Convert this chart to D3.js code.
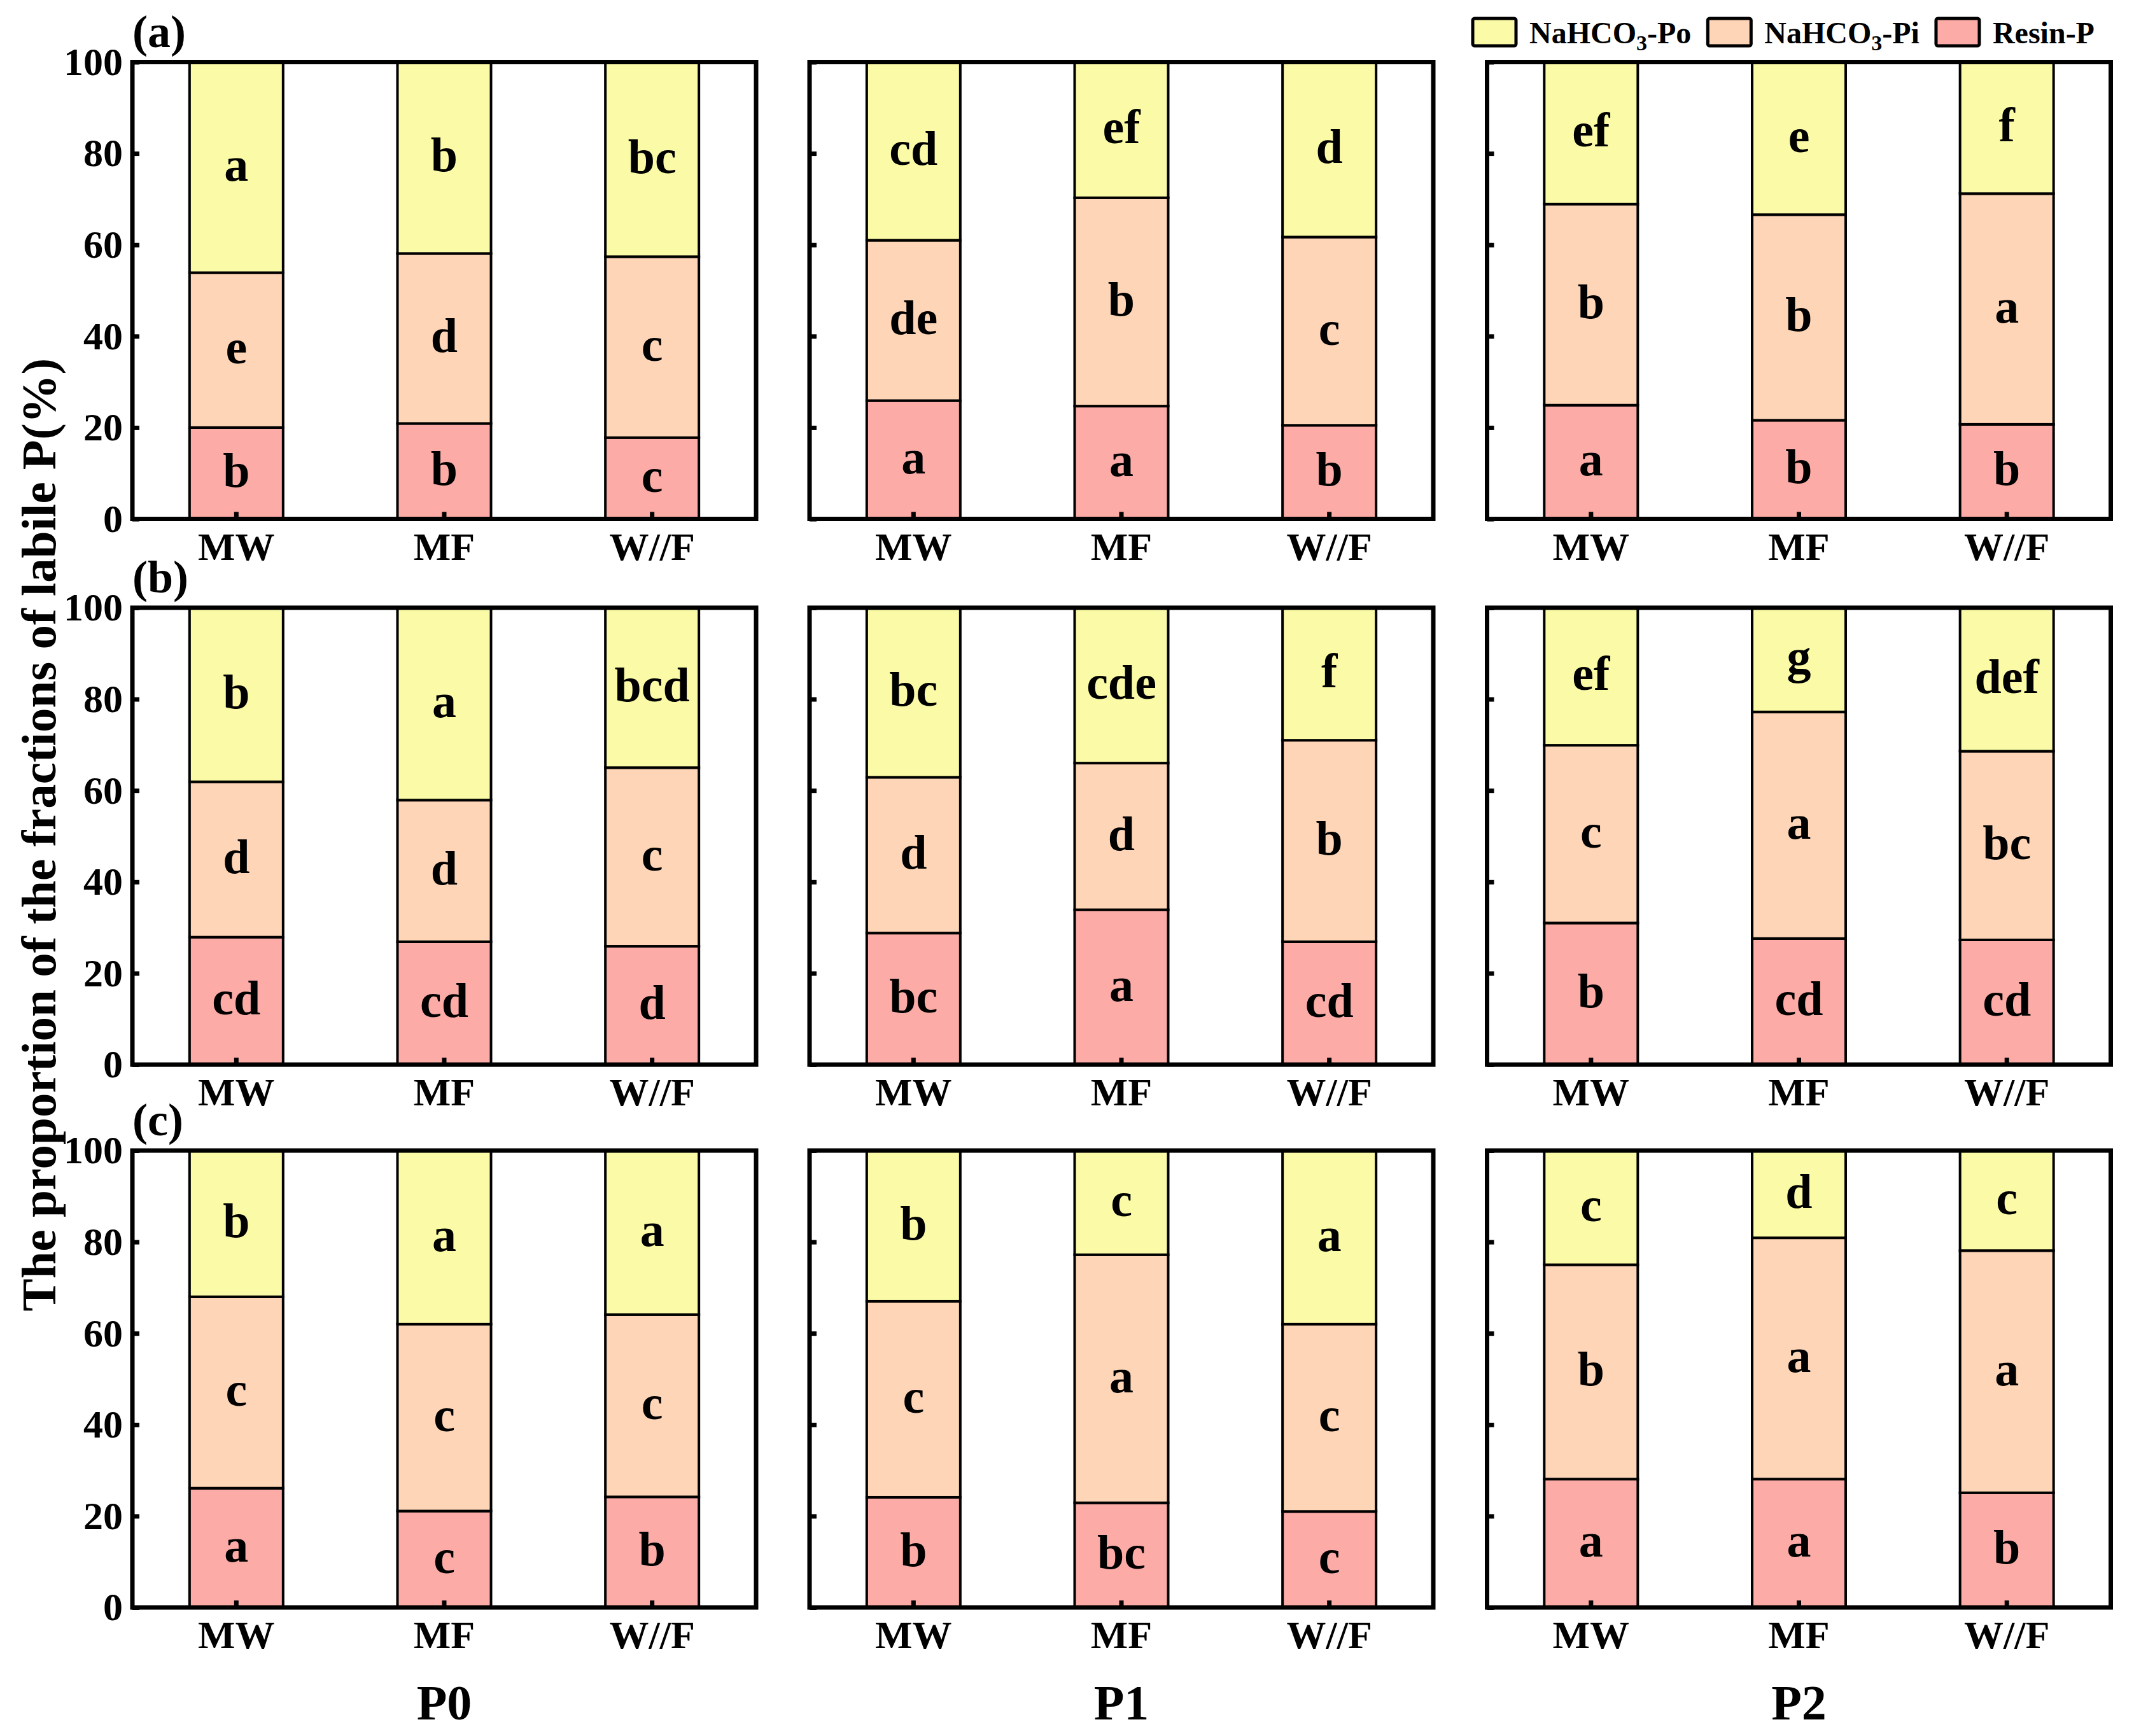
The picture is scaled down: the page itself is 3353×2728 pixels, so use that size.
<!DOCTYPE html>
<html>
<head>
	<meta charset="utf-8">
	<style>
		body { margin: 0; background: #fff; }
		text { font-family: "Liberation Serif", "Times New Roman", serif; font-weight: bold; }
	</style>
</head>
<body>

	<div id="chart"></div>

	<script src="https://cdnjs.cloudflare.com/ajax/libs/d3/7.8.5/d3.min.js"></script>

	<script>
		// categories
		const groups = ['MW', 'MF', 'W//F'];
		const pLevels = ['P0', 'P1', 'P2'];
		const rowTags = ['(a)', '(b)', '(c)'];
		const yTicks = [0, 20, 40, 60, 80, 100];

		// values (%), rows (a),(b),(c) -> P0,P1,P2 -> MW,MF,W//F
		const resinP = [
			[[20.0, 20.9, 17.8], [25.9, 24.7, 20.5], [24.9, 21.6, 20.7]],
			[[27.9, 26.9, 25.9], [28.8, 33.9, 26.9], [31.0, 27.6, 27.3]],
			[[26.1, 21.1, 24.2], [24.1, 22.9, 21.0], [28.1, 28.1, 25.1]]
		];
		const nahco3Pi = [
			[[33.9, 37.2, 39.6], [35.1, 45.6, 41.2], [44.0, 45.0, 50.5]],
			[[34.0, 31.0, 39.1], [34.1, 32.1, 44.1], [38.9, 49.6, 41.3]],
			[[41.9, 40.9, 39.9], [42.9, 54.3, 41.0], [46.9, 52.8, 53.0]]
		];
		const nahco3Po = [
			[[46.1, 41.9, 42.6], [39.0, 29.7, 38.3], [31.1, 33.4, 28.8]],
			[[38.1, 42.1, 35.0], [37.1, 34.0, 29.0], [30.1, 22.8, 31.4]],
			[[32.0, 38.0, 35.9], [33.0, 22.8, 38.0], [25.0, 19.1, 21.9]]
		];

		// significance letters
		const resinLetters = [
			[['b', 'b', 'c'], ['a', 'a', 'b'], ['a', 'b', 'b']],
			[['cd', 'cd', 'd'], ['bc', 'a', 'cd'], ['b', 'cd', 'cd']],
			[['a', 'c', 'b'], ['b', 'bc', 'c'], ['a', 'a', 'b']]
		];
		const piLetters = [
			[['e', 'd', 'c'], ['de', 'b', 'c'], ['b', 'b', 'a']],
			[['d', 'd', 'c'], ['d', 'd', 'b'], ['c', 'a', 'bc']],
			[['c', 'c', 'c'], ['c', 'a', 'c'], ['b', 'a', 'a']]
		];
		const poLetters = [
			[['a', 'b', 'bc'], ['cd', 'ef', 'd'], ['ef', 'e', 'f']],
			[['b', 'a', 'bcd'], ['bc', 'cde', 'f'], ['ef', 'g', 'def']],
			[['b', 'a', 'a'], ['b', 'c', 'a'], ['c', 'd', 'c']]
		];

		const keys = ['resin', 'pi', 'po'];
		const colors = { resin: '#fcaba6', pi: '#fed5b6', po: '#fbfba7' };

		const W = 3353;
		const H = 2728;
		const colX = [208, 1272, 2336.5];
		const rowY = [97.5, 955, 1808];
		const pw = 980;
		const ph = 718;

		const svg = d3.select('#chart')
			.append('svg')
			.attr('width', W)
			.attr('height', H);

		svg.append('rect').attr('width', W).attr('height', H).attr('fill', '#fff');

		const x = d3.scaleBand()
			.domain(groups)
			.range([0, pw])
			.paddingInner(0.55)
			.paddingOuter(0.275);

		const y = d3.scaleLinear()
			.domain([0, 100])
			.range([ph, 0]);

		const stack = d3.stack().keys(keys);
		const letterSets = { resin: resinLetters, pi: piLetters, po: poLetters };

		rowY.forEach((top, r) => {
			colX.forEach((left, c) => {
				const g = svg.append('g').attr('transform', `translate(${left}, ${top})`);

				const data = groups.map((name, i) => ({
					group: name,
					idx: i,
					resin: resinP[r][c][i],
					pi: nahco3Pi[r][c][i],
					po: nahco3Po[r][c][i]
				}));

				const layers = g.selectAll('g.layer')
					.data(stack(data))
					.join('g')
						.attr('class', 'layer')
						.attr('fill', d => colors[d.key]);

				layers.selectAll('rect')
					.data(d => d)
					.join('rect')
						.attr('x', d => x(d.data.group))
						.attr('y', d => y(d[1]))
						.attr('width', x.bandwidth())
						.attr('height', d => y(d[0]) - y(d[1]))
						.attr('stroke', '#000')
						.attr('stroke-width', 4);

				layers.each(function(layer) {
					d3.select(this).selectAll('text')
						.data(layer)
						.join('text')
							.attr('x', d => x(d.data.group) + x.bandwidth() / 2)
							.attr('y', d => (y(d[0]) + y(d[1])) / 2)
							.attr('dy', '0.28em')
							.attr('text-anchor', 'middle')
							.attr('font-size', 76)
							.attr('fill', '#000')
							.text(d => letterSets[layer.key][r][c][d.data.idx]);
				});

				const yAxis = d3.axisLeft(y)
					.tickValues(yTicks)
					.tickSize(-11)
					.tickPadding(15)
					.tickFormat(c === 0 ? d3.format('d') : () => '');

				g.append('g')
					.call(yAxis)
					.call(a => a.select('.domain').remove())
					.call(a => a.selectAll('line').attr('stroke-width', 7))
					.call(a => a.selectAll('text')
						.attr('font-size', 62)
						.attr('fill', '#000'));

				const xAxis = d3.axisBottom(x)
					.tickSize(-11)
					.tickPadding(20);

				g.append('g')
					.attr('transform', `translate(0, ${ph})`)
					.call(xAxis)
					.call(a => a.select('.domain').remove())
					.call(a => a.selectAll('line').attr('stroke-width', 7))
					.call(a => a.selectAll('text')
						.attr('font-size', 62)
						.attr('fill', '#000'));

				g.append('rect')
					.attr('width', pw)
					.attr('height', ph)
					.attr('fill', 'none')
					.attr('stroke', '#000')
					.attr('stroke-width', 7);
			});

			svg.append('text')
				.attr('x', colX[0])
				.attr('y', top - 24)
				.attr('font-size', 72)
				.text(rowTags[r]);
		});

		// P level labels under columns
		svg.selectAll('text.plevel')
			.data(pLevels)
			.join('text')
				.attr('class', 'plevel')
				.attr('x', (d, i) => colX[i] + pw / 2)
				.attr('y', 2702)
				.attr('text-anchor', 'middle')
				.attr('font-size', 78)
				.text(d => d);

		svg.append('text')
			.attr('transform', `translate(87, ${(rowY[0] + rowY[2] + ph) / 2}) rotate(-90)`)
			.attr('text-anchor', 'middle')
			.attr('font-size', 77)
			.text('The proportion of the fractions of labile P(%)');

		// legend
		const legendItems = [
			{ key: 'po', main: 'NaHCO', sub: '3', tail: '-Po' },
			{ key: 'pi', main: 'NaHCO', sub: '3', tail: '-Pi' },
			{ key: 'resin', main: 'Resin-P', sub: '', tail: '' }
		];

		let lx = 2314;
		legendItems.forEach(item => {
			svg.append('rect')
				.attr('x', lx)
				.attr('y', 29)
				.attr('width', 68)
				.attr('height', 43)
				.attr('rx', 3)
				.attr('fill', colors[item.key])
				.attr('stroke', '#000')
				.attr('stroke-width', 5);

			const t = svg.append('text')
				.attr('x', lx + 68 + 21)
				.attr('y', 68)
				.attr('font-size', 48)
				.text(item.main);

			if (item.sub) {
				t.append('tspan').attr('dy', 11).attr('font-size', 34).text(item.sub);
				t.append('tspan').attr('dy', -11).text(item.tail);
			}

			lx += 68 + 21 + t.node().getComputedTextLength() + 26;
		});
	</script>

</body>
</html>
